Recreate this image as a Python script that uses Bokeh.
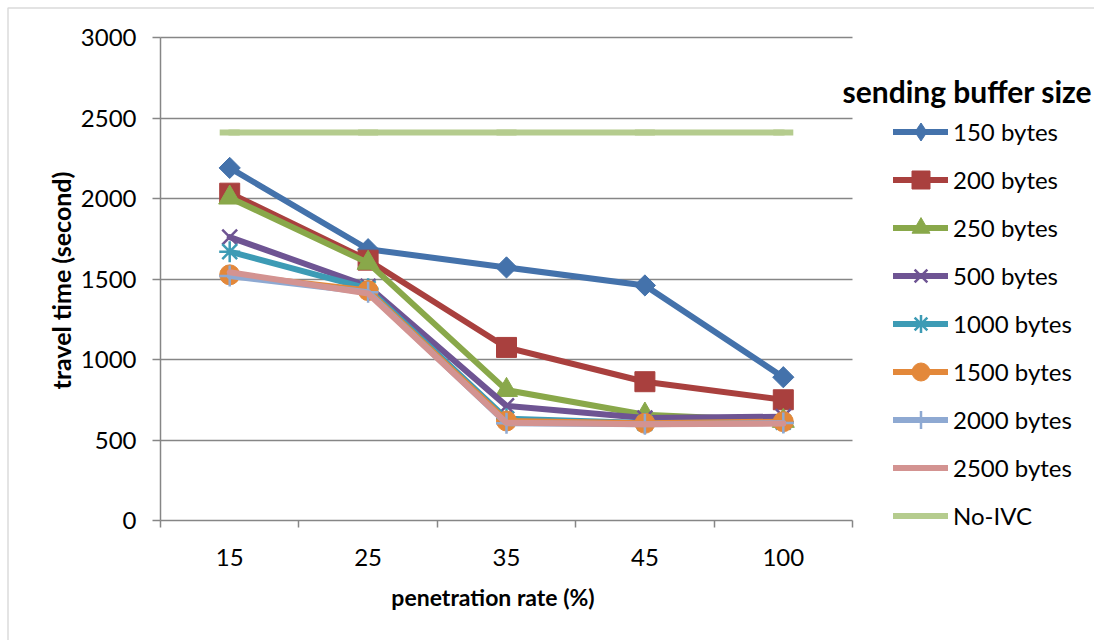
import numpy as np
from bokeh.plotting import figure
from bokeh.models import Range1d, FixedTicker, Legend, LegendItem, Label, BoxAnnotation
from bokeh.embed import file_html
from bokeh.resources import INLINE

# ---- data ----
rates = ["15", "25", "35", "45", "100"]
series_names = ["150 bytes", "200 bytes", "250 bytes", "500 bytes", "1000 bytes",
                "1500 bytes", "2000 bytes", "2500 bytes", "No-IVC"]
b150 = [2190, 1685, 1572, 1460, 890]
b200 = [2033, 1617, 1075, 862, 750]
b250 = [2005, 1600, 810, 657, 618]
b500 = [1760, 1455, 712, 636, 645]
b1000 = [1670, 1440, 632, 605, 610]
b1500 = [1526, 1428, 618, 604, 614]
b2000 = [1518, 1418, 604, 598, 605]
b2500 = [1542, 1410, 607, 598, 602]
no_ivc = [2410, 2410, 2410, 2410, 2410]
series_values = [b150, b200, b250, b500, b1000, b1500, b2000, b2500, no_ivc]
y_ticks = [0, 500, 1000, 1500, 2000, 2500, 3000]

# ---- styles ----
colors = ["#4472AB", "#A9403E", "#89A84A", "#6E5493", "#3D9BB5",
          "#E3883A", "#8EA9D2", "#D39391", "#B5CC8E"]
# (marker, size, angle, legend marker)
markers = [("square", 15, np.pi / 4, "diamond"), ("square", 20, 0, None),
           ("triangle", 22, 0, None), ("x", 21, 0, None), ("asterisk", 21, 0, None),
           ("circle", 20, 0, None), ("cross", 21, 0, None), (None, 0, 0, None),
           ("dash", 20, 0, None)]
FONT = "Lato"
GRAY = "#868686"
W, H = 1094, 640
# plot area in pixels (left, right, top, bottom)
PL, PR, PT, PB = 160, 852, 37, 520

n = len(rates)
xu = n / (PR - PL)          # x data units per pixel
yu = 3000 / (PB - PT)       # y data units per pixel

p = figure(width=W, height=H, output_backend="svg", toolbar_location=None,
           x_range=Range1d(-PL * xu, n + (W - PR) * xu),
           y_range=Range1d(-(H - PB) * yu, 3000 + PT * yu),
           min_border=0)
p.outline_line_color = None
p.background_fill_color = "white"
p.border_fill_color = "white"

xs = np.arange(n) + 0.5

# x axis: minor ticks at category boundaries, labels at centers
p.xaxis.fixed_location = 0
p.xaxis.bounds = (0, n)
p.xaxis.ticker = FixedTicker(ticks=list(xs), minor_ticks=list(range(n + 1)))
p.xaxis.major_label_overrides = {float(x): r for x, r in zip(xs, rates)}
p.xaxis.major_tick_out = 0
p.xaxis.major_tick_in = 0
p.xaxis.minor_tick_out = 7
p.xaxis.minor_tick_in = 0
p.xaxis.minor_tick_line_color = GRAY
p.xaxis.minor_tick_line_width = 1.5
p.xaxis.major_label_standoff = 21
p.xgrid.grid_line_color = None

p.yaxis.fixed_location = 0
p.yaxis.bounds = (0, 3000)
p.yaxis.ticker = FixedTicker(ticks=y_ticks, minor_ticks=[])
p.yaxis.major_tick_out = 8
p.yaxis.major_tick_in = 0
p.yaxis.major_tick_line_color = GRAY
p.yaxis.major_tick_line_width = 1.5
p.yaxis.major_label_standoff = 16
p.ygrid.ticker = FixedTicker(ticks=y_ticks[1:], minor_ticks=[])
p.ygrid.cross_bounds = (0, n)
p.ygrid.grid_line_color = GRAY
p.ygrid.grid_line_width = 1.5

for ax in (p.xaxis, p.yaxis):
    ax.axis_line_color = GRAY
    ax.axis_line_width = 1.5
    ax.major_label_text_font = FONT
    ax.major_label_text_font_size = "24px"
    ax.major_label_text_color = "black"

items = []
for name, vals, col, (mk, sz, ang, leg_mk) in zip(series_names, series_values, colors, markers):
    lr = p.line(xs, vals, line_color=col, line_width=6, line_join="round", line_cap="round")
    rends = [lr]
    if mk is not None:
        if mk in ("x", "asterisk", "cross"):
            sr = p.scatter(xs, vals, marker=mk, size=sz, line_color=col, line_width=2.5,
                           fill_color=None)
        elif mk == "dash":
            sr = p.scatter(xs, vals, marker=mk, size=sz, line_color=col, line_width=6,
                           fill_color=None)
        else:
            sr = p.scatter(xs, vals, marker=mk, size=sz, angle=ang, line_color=col,
                           fill_color=col, line_width=1)
        if leg_mk is None:
            rends.append(sr)
        else:
            # legend-only marker (legend markers are drawn unrotated)
            hr = p.scatter(xs, vals, marker=leg_mk, size=sz, line_color=col,
                           fill_color=col, line_width=1, visible=False)
            rends.append(hr)
    items.append(LegendItem(label=name, renderers=rends))

legend = Legend(items=items, location=(893, H - 537.5), padding=0, margin=0, spacing=3,
                glyph_width=55, glyph_height=45, label_height=30, label_standoff=5,
                background_fill_alpha=0, border_line_color=None,
                label_text_font=FONT, label_text_font_size="24px",
                label_text_color="black", click_policy="none",
                inactive_fill_alpha=0)
p.add_layout(legend, "center")

p.add_layout(Label(x=842, y=H - 90, x_units="screen", y_units="screen",
                   text="sending buffer size", text_font=FONT, text_font_size="30px",
                   text_font_style="bold", text_baseline="middle", text_align="left",
                   text_color="black"))
p.add_layout(Label(x=492.5, y=H - 596, x_units="screen", y_units="screen",
                   text="penetration rate (%)", text_font=FONT, text_font_size="23px",
                   text_font_style="bold", text_baseline="middle", text_align="center",
                   text_color="black"))
p.add_layout(Label(x=60, y=H - 280, x_units="screen", y_units="screen",
                   text="travel time (second)", text_font=FONT, text_font_size="25px",
                   text_font_style="bold", text_baseline="middle", text_align="center",
                   angle=np.pi / 2, text_color="black"))

p.add_layout(BoxAnnotation(left=7.5, right=W + 20, top=H - 7.5, bottom=-20,
                           left_units="screen", right_units="screen",
                           top_units="screen", bottom_units="screen",
                           fill_alpha=0, line_color=GRAY, line_width=1.5))

open("out.html", "w").write(file_html(p, INLINE))
